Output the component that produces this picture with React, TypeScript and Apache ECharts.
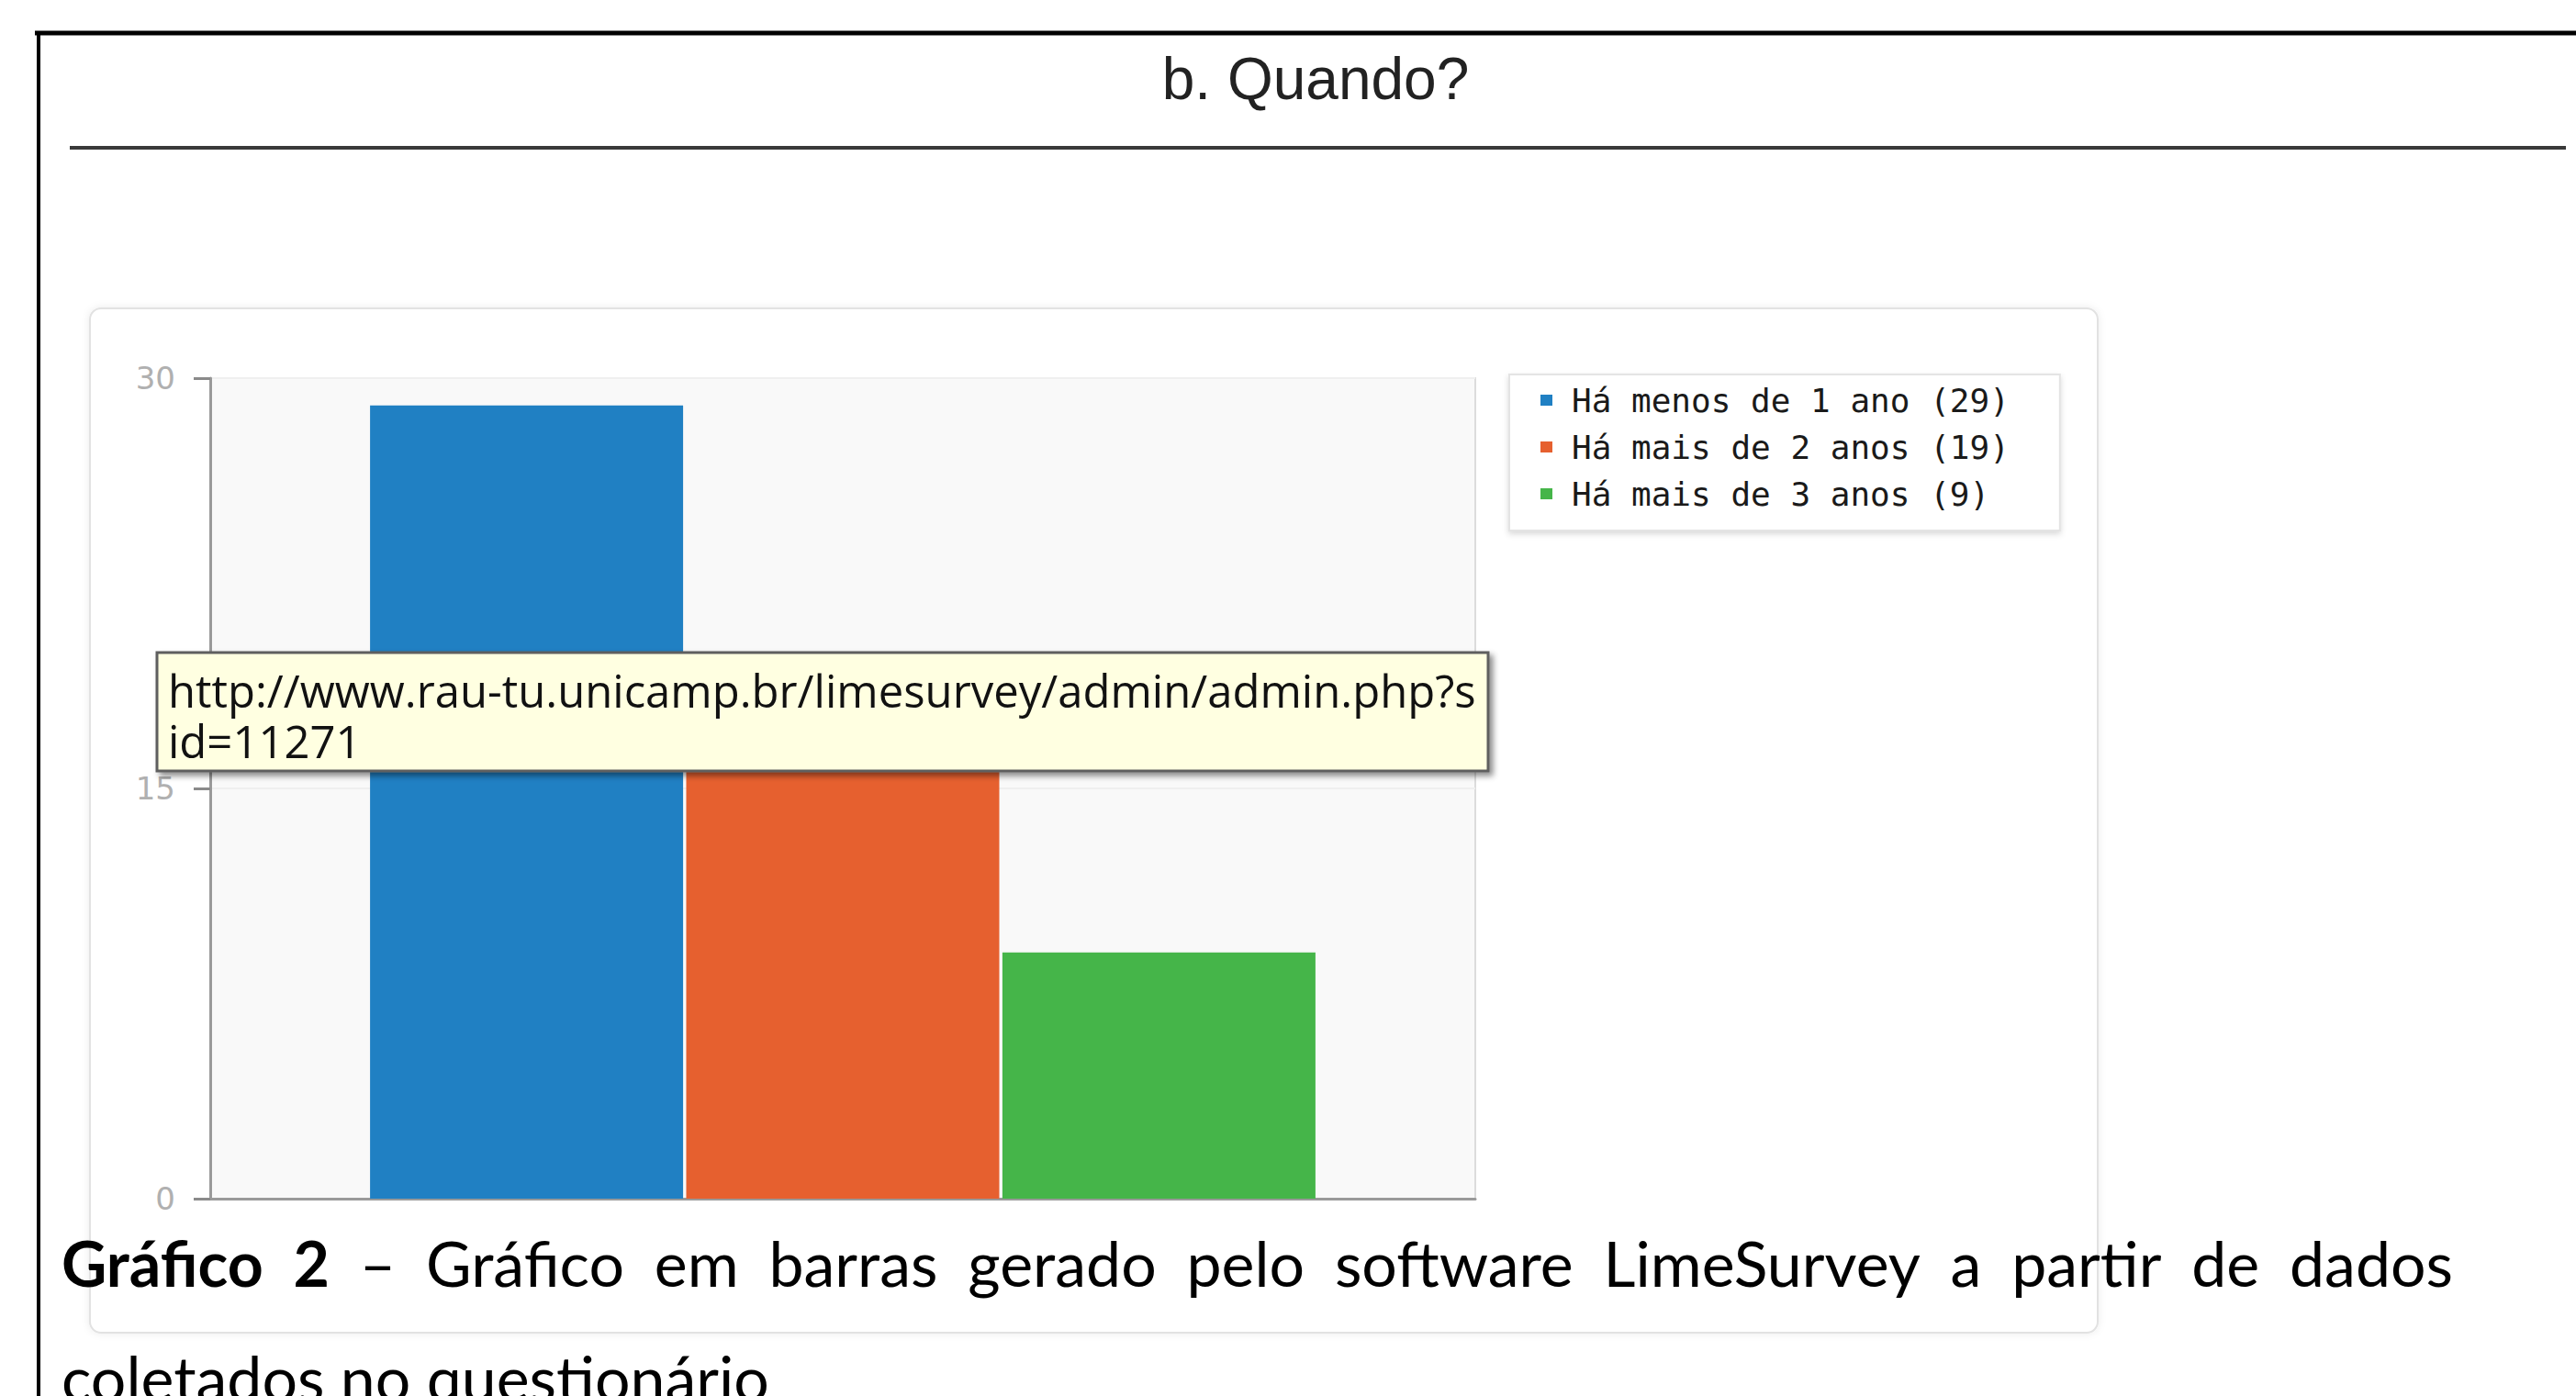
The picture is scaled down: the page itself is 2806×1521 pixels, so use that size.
import React, { useEffect, useRef } from "react";
import * as echarts from "echarts";

// ---- data ----
const categories = ["b. Quando?"];
const seriesNames = ["Há menos de 1 ano (29)", "Há mais de 2 anos (19)", "Há mais de 3 anos (9)"];
const seriesValues = [29, 19, 9];
const yMin = 0;
const yMax = 30;
const yInterval = 15;

const chartTitle = "b. Quando?";
const tooltipLines = ["http://www.rau-tu.unicamp.br/limesurvey/admin/admin.php?s", "id=11271"];
const captionBold = ["Gráfico", "2"];
const captionWords = ["–", "Gráfico", "em", "barras", "gerado", "pelo", "software", "LimeSurvey", "a", "partir", "de", "dados"];
const captionLine2 = "coletados no questionário";

// ---- styles ----
const seriesColors = ["#2080c3", "#e6602f", "#45b549"];

function measure(text: string, font: string): number {
  const c = document.createElement("canvas");
  const ctx = c.getContext("2d");
  if (!ctx) return text.length * 20;
  ctx.font = font;
  return ctx.measureText(text).width;
}

export default function App() {
  const ref = useRef<HTMLDivElement>(null);

  useEffect(() => {
    document.body.style.margin = "0";
    document.body.style.overflow = "hidden";
    const el = ref.current;
    if (!el) return;
    const chart = echarts.init(el, null, { renderer: "svg" });

    // caption justification
    const capFs = 68;
    const capX0 = 67;
    const capX1 = 2672;
    const words = [
      ...captionBold.map((t) => ({ t, font: `bold ${capFs}px Lato` })),
      ...captionWords.map((t) => ({ t, font: `${capFs}px Lato` })),
    ];
    const widths = words.map((w) => measure(w.t, w.font));
    const total = widths.reduce((a, b) => a + b, 0);
    const gap = (capX1 - capX0 - total) / (words.length - 1);
    let cx = capX0;
    const captionEls: any[] = words.map((w, i) => {
      const e = {
        type: "text",
        x: cx,
        y: 1375,
        z: 100,
        style: { text: w.t, font: w.font, fill: "#000", align: "left", verticalAlign: "middle" },
      };
      cx += widths[i] + gap;
      return e;
    });

    // tooltip text fit
    const ttFont0 = 46;
    const ttW = measure(tooltipLines[0], `${ttFont0}px "Open Sans"`);
    const ttFs = Math.max(30, Math.min(60, (ttFont0 * 1425) / (ttW || 1425)));

    const option: any = {
      animation: false,
      tooltip: { show: false },
      grid: {
        left: 229,
        top: 412,
        width: 1378,
        height: 894,
        containLabel: false,
        show: true,
        backgroundColor: "#f9f9f9",
        borderColor: "#dcdcdc",
        borderWidth: 2,
      },
      legend: {
        data: seriesNames,
        orient: "vertical",
        left: 1644,
        top: 408,
        padding: [10, 55, 22, 34],
        itemWidth: 13,
        itemHeight: 12,
        itemGap: 15,
        icon: "rect",
        selectedMode: false,
        backgroundColor: "#ffffff",
        borderColor: "#e4e4e4",
        borderWidth: 2,
        shadowBlur: 6,
        shadowColor: "rgba(0,0,0,0.15)",
        shadowOffsetY: 3,
        textStyle: {
          fontFamily: "DejaVu Sans Mono",
          fontSize: 36,
          color: "#1a1a1a",
          padding: [0, 0, 0, 16],
        },
      },
      xAxis: {
        type: "category",
        data: categories,
        axisLabel: { show: false },
        axisTick: { show: false },
        axisLine: { show: true, lineStyle: { color: "#9a9a9a", width: 3 } },
        splitLine: { show: false },
      },
      yAxis: {
        type: "value",
        min: yMin,
        max: yMax,
        interval: yInterval,
        axisLine: { show: true, lineStyle: { color: "#9a9a9a", width: 3 } },
        axisTick: { show: true, length: 18, lineStyle: { color: "#8a8a8a", width: 3 } },
        axisLabel: {
          margin: 38,
          fontFamily: "DejaVu Sans",
          fontSize: 34,
          color: "#b0b0b0",
        },
        splitLine: { show: true, lineStyle: { color: "#efefef", width: 2 } },
      },
      series: seriesNames.map((name, i) => ({
        type: "bar",
        name,
        data: [seriesValues[i]],
        barWidth: 341,
        barGap: "1%",
        itemStyle: { color: seriesColors[i] },
        z: 2,
      })),
      graphic: [
        // outer frame
        { type: "line", z: 50, shape: { x1: 38, y1: 36, x2: 2806, y2: 36 }, style: { stroke: "#000", lineWidth: 5 } },
        { type: "line", z: 50, shape: { x1: 42, y1: 34, x2: 42, y2: 1521 }, style: { stroke: "#000", lineWidth: 4 } },
        // title
        {
          type: "text",
          x: 1433,
          y: 86,
          z: 50,
          style: { text: chartTitle, font: '64px "Liberation Sans"', fill: "#222", align: "center", verticalAlign: "middle" },
        },
        { type: "line", z: 50, shape: { x1: 76, y1: 161, x2: 2795, y2: 161 }, style: { stroke: "#3a3a3a", lineWidth: 4 } },
        // chart panel
        {
          type: "rect",
          z: -10,
          shape: { x: 98, y: 336, width: 2187, height: 1116, r: 12 },
          style: { fill: "#ffffff", stroke: "#e2e2e2", lineWidth: 2, shadowBlur: 8, shadowColor: "rgba(0,0,0,0.08)" },
        },
        // tooltip box
        {
          type: "rect",
          z: 100,
          shape: { x: 171, y: 711, width: 1450, height: 129 },
          style: {
            fill: "#ffffe1",
            stroke: "#5e5e5e",
            lineWidth: 3,
            shadowBlur: 6,
            shadowOffsetX: 4,
            shadowOffsetY: 4,
            shadowColor: "rgba(0,0,0,0.45)",
          },
        },
        {
          type: "text",
          x: 183,
          y: 724,
          z: 101,
          style: {
            text: tooltipLines.join("\n"),
            font: `${ttFs}px "Open Sans"`,
            lineHeight: 55,
            fill: "#111",
            align: "left",
            verticalAlign: "top",
          },
        },
        // caption
        ...captionEls,
        {
          type: "text",
          x: capX0,
          y: 1500,
          z: 100,
          style: { text: captionLine2, font: `${capFs}px Lato`, fill: "#000", align: "left", verticalAlign: "middle" },
        },
      ],
    };

    chart.setOption(option);
    return () => chart.dispose();
  }, []);

  return <div ref={ref} style={{ width: 2806, height: 1521 }} />;
}
